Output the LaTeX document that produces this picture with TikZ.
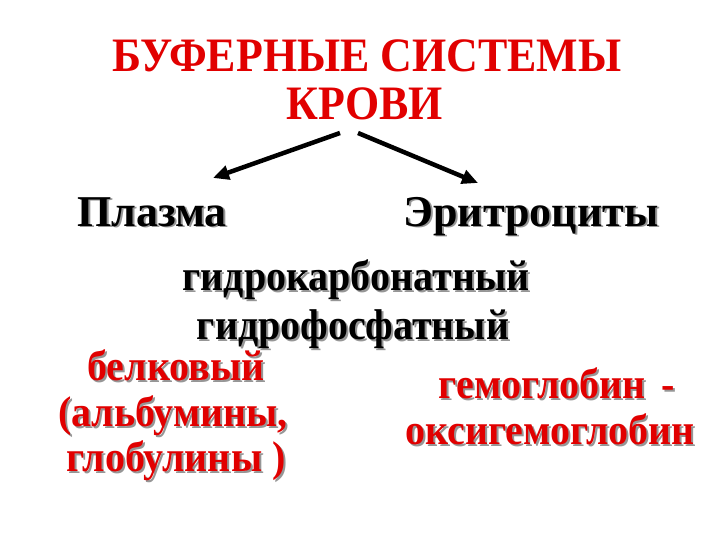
\documentclass[tikz,border=0pt]{standalone}
\usepackage{graphicx}
\usepackage{fontspec}
\setmainfont{Liberation Serif}
\usetikzlibrary{arrows.meta,calc}
\definecolor{tred}{RGB}{225,0,0}
\definecolor{shade}{RGB}{150,150,150}
\newcommand{\cnd}[1]{\scalebox{0.93}[1]{#1}}
\tikzset{
  ttl/.style={text=tred, font=\bfseries\fontsize{48}{50}\selectfont, inner sep=0pt, anchor=base},
  blk/.style={font=\bfseries\fontsize{44}{46}\selectfont, inner sep=0pt, anchor=base},
  txt/.style={font=\bfseries\fontsize{43}{46}\selectfont, inner sep=0pt, anchor=base},
  arr/.style={line width=4.5pt, -{Triangle[length=16pt,width=14pt]}},
}
\begin{document}
\begin{tikzpicture}[x=1pt,y=-1pt]
\useasboundingbox[fill=white] (0,0) rectangle (720,540);
\node[ttl] (t1) at (367,72) {\scalebox{0.915}[1]{БУФЕРНЫЕ СИСТЕМЫ}};
\node[ttl] (t2) at (365,120) {\scalebox{0.915}[1]{КРОВИ}};
\coordinate (pl) at (152,226);
\coordinate (er) at (531,226);
\node[blk, text=shade] at ($(pl)+(2,2)$) {Плазма};
\node[blk, text=black] (plasma) at (pl) {Плазма};
\node[blk, text=shade] at ($(er)+(2,2)$) {Эритроциты};
\node[blk, text=black] (eryth) at (er) {Эритроциты};
\coordinate (a1s) at (340,133);
\coordinate (a1e) at (213,178);
\coordinate (a2s) at (358,133);
\coordinate (a2e) at (478,183);
\draw[arr] (a1s) -- (a1e);
\draw[arr] (a2s) -- (a2e);
% middle
\coordinate (g1) at (356,290);
\coordinate (g2) at (353,339);
\node[txt, text=shade] at ($(g1)+(2,2)$) {\cnd{гидрокарбонатный}};
\node[txt, text=black] (hc) at (g1) {\cnd{гидрокарбонатный}};
\node[txt, text=shade] at ($(g2)+(2,2)$) {\cnd{гидрофосфатный}};
\node[txt, text=black] (hp) at (g2) {\cnd{гидрофосфатный}};
% left
\coordinate (b1) at (176,380);
\coordinate (b2) at (173,426);
\coordinate (b3) at (176,471);
\node[txt, text=shade] at ($(b1)+(2,2)$) {\cnd{белковый}};
\node[txt, text=tred] (bel) at (b1) {\cnd{белковый}};
\node[txt, text=shade] at ($(b2)+(2,2)$) {\cnd{(альбумины,}};
\node[txt, text=tred] (alb) at (b2) {\cnd{(альбумины,}};
\node[txt, text=shade] at ($(b3)+(2,2)$) {\cnd{глобулины~)}};
\node[txt, text=tred] (glob) at (b3) {\cnd{глобулины~)}};
% right
\coordinate (h1) at (557,398);
\coordinate (h2) at (550,444);
\node[txt, text=shade] at ($(h1)+(2,2)$) {\cnd{гемоглобин\hspace{0.4em}-}};
\node[txt, text=tred] (hem) at (h1) {\cnd{гемоглобин\hspace{0.4em}-}};
\node[txt, text=shade] at ($(h2)+(2,2)$) {\cnd{оксигемоглобин}};
\node[txt, text=tred] (oxy) at (h2) {\cnd{оксигемоглобин}};
\end{tikzpicture}
\end{document}
